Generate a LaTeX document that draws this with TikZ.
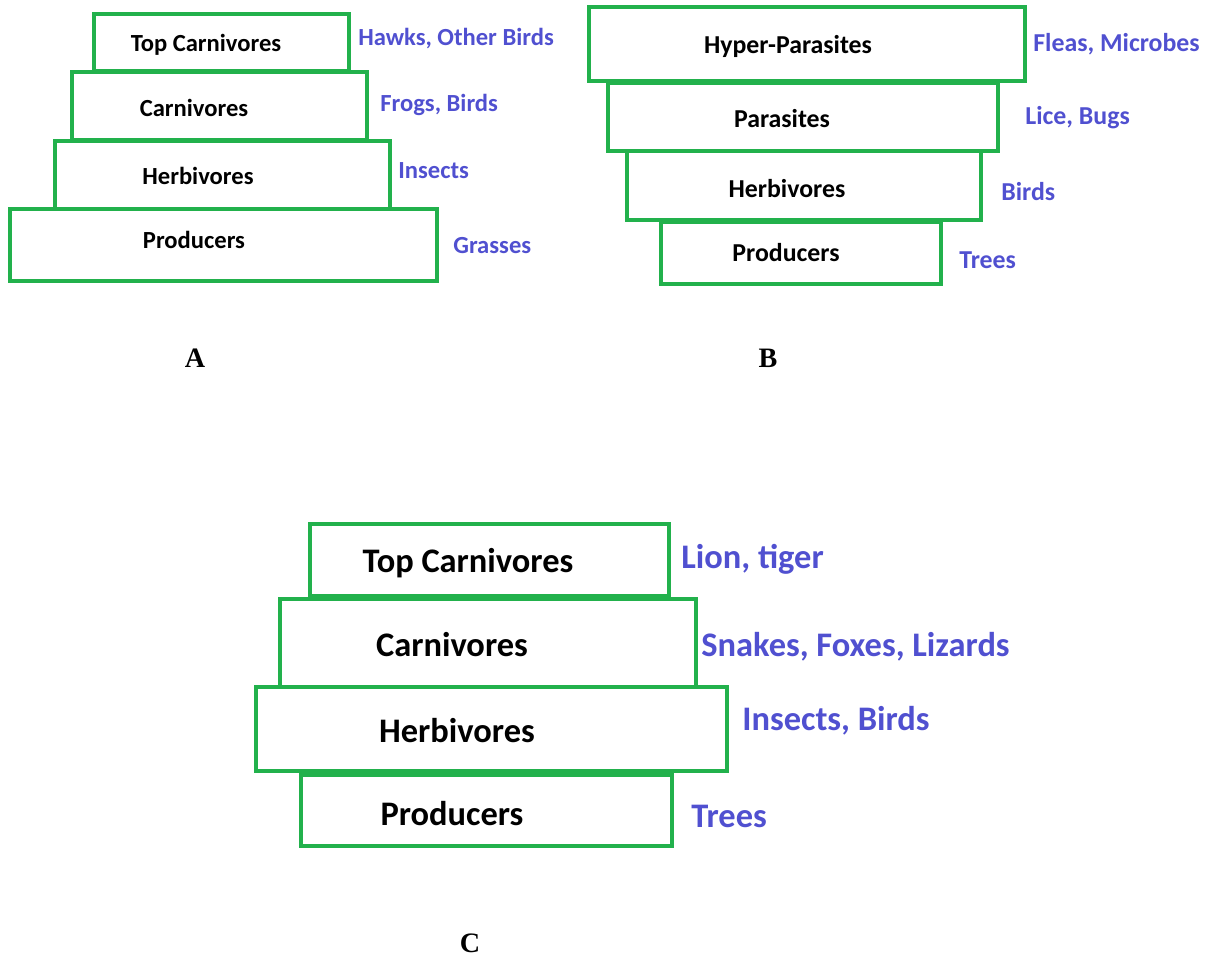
\documentclass[tikz,border=0pt]{standalone}
\usepackage{fontspec}
\setmainfont{Liberation Serif}
\newfontfamily\calib{Carlito}
\usetikzlibrary{positioning}
\usetikzlibrary{fit}
\definecolor{paintgreen}{HTML}{22B14C}
\definecolor{labelblue}{HTML}{5050D0}
\tikzset{
    layer/.style={draw=paintgreen, line width=2.3pt, inner sep=0pt},
    small/.style={font=\calib\bfseries\fontsize{14}{16}\selectfont},
    medium/.style={font=\calib\bfseries\fontsize{14.7}{17}\selectfont},
    big/.style={font=\calib\bfseries\fontsize{19.6}{22}\selectfont},
    example/.style={text=labelblue, anchor=west, inner sep=0pt},
    panel/.style={font=\bfseries\fontsize{16}{18}\selectfont}
}

\begin{document}
\begin{tikzpicture}[x=0.02cm, y=-0.02cm]
            \useasboundingbox (0,0) rectangle (1207,957);

            % pyramid A
            \node (a1) [layer, fit={(94,14) (349,71)}]   {};
            \node (a2) [layer, fit={(72,72) (367,140)}]  {};
            \node (a3) [layer, fit={(55,141) (390,209)}] {};
            \node (a4) [layer, fit={(10,209) (437,281)}] {};
            \node (ta1) [small] at (206,45)  {Top Carnivores};
            \node (ta2) [small] at (194,108) {Carnivores};
            \node (ta3) [small] at (198,176) {Herbivores};
            \node (ta4) [small] at (194,240) {Producers};
            \node (ea1) [small, example] at (358,39)  {Hawks, Other Birds};
            \node (ea2) [small, example] at (380,105) {Frogs, Birds};
            \node (ea3) [small, example] at (398,171) {Insects};
            \node (ea4) [small, example] at (453,246) {Grasses};
            \node (pa) [panel] at (195,358) {A};

            % pyramid B
            \node (b1) [layer, fit={(589,7) (1025,81)}]   {};
            \node (b2) [layer, fit={(608,83) (998,151)}]  {};
            \node (b3) [layer, fit={(627,151) (981,220)}] {};
            \node (b4) [layer, fit={(661,222) (941,284)}] {};
            \node (tb1) [medium] at (788,46)  {Hyper-Parasites};
            \node (tb2) [medium] at (782,119) {Parasites};
            \node (tb3) [medium] at (787,189) {Herbivores};
            \node (tb4) [medium] at (786,253) {Producers};
            \node (eb1) [medium, example] at (1033,44)  {Fleas, Microbes};
            \node (eb2) [medium, example] at (1025,118) {Lice, Bugs};
            \node (eb3) [medium, example] at (1001,192) {Birds};
            \node (eb4) [medium, example] at (959,260)  {Trees};
            \node (pb) [panel] at (768,358) {B};

            % pyramid C
            \node (c1) [layer, fit={(310,524) (669,596)}] {};
            \node (c2) [layer, fit={(280,599) (696,687)}] {};
            \node (c3) [layer, fit={(256,687) (727,771)}] {};
            \node (c4) [layer, fit={(301,775) (672,846)}] {};
            \node (tc1) [big] at (468,563) {Top Carnivores};
            \node (tc2) [big] at (452,645) {Carnivores};
            \node (tc3) [big] at (457,731) {Herbivores};
            \node (tc4) [big] at (452,814) {Producers};
            \node (ec1) [big, example] at (681,559) {Lion, tiger};
            \node (ec2) [big, example] at (701,647) {Snakes, Foxes, Lizards};
            \node (ec3) [big, example] at (742,721) {Insects, Birds};
            \node (ec4) [big, example] at (691,816) {Trees};
            \node (pc) [panel] at (470,943) {C};
        \end{tikzpicture}
\end{document}
